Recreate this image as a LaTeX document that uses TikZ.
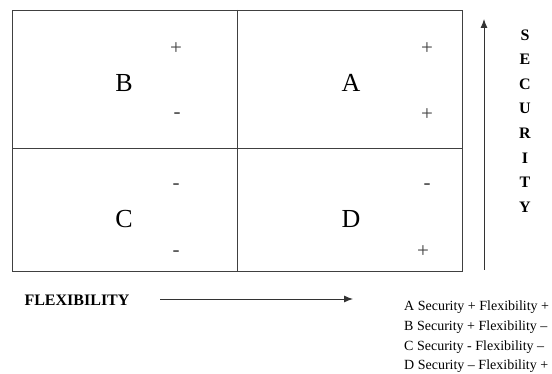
\documentclass[tikz,border=0pt]{standalone}
\usepackage{fontspec}
\setmainfont{Liberation Serif}
\usetikzlibrary{arrows.meta}
\begin{document}
\begin{tikzpicture}[x=1pt,y=-1pt,
  gridline/.style={draw=black!75,line width=0.9pt},
  axis/.style={draw=black!80,line width=0.9pt,-{Latex[length=9pt,width=7pt]}},
  quad/.style={font=\fontsize{26}{26}\selectfont,inner sep=0pt},
  sign/.style={font=\fontsize{21}{21}\selectfont,inner sep=0pt,text=black!75},
  seclet/.style={font=\fontsize{16}{16}\selectfont\bfseries,inner sep=0pt},
  legend/.style={font=\fontsize{14}{14}\selectfont,inner sep=0pt,anchor=west}]
\useasboundingbox (0,0) rectangle (552,374);
% grid
\coordinate (tl) at (12,10);
\coordinate (br) at (462,271);
\draw[gridline] (tl) rectangle (br);
\coordinate (vt) at (237,10);
\coordinate (vb) at (237,271);
\coordinate (hl) at (12,148);
\coordinate (hr) at (462,148);
\draw[gridline] (vt) -- (vb);
\draw[gridline] (hl) -- (hr);
% quadrant letters
\node[quad] (B) at (124,83) {B};
\node[quad] (A) at (351,83) {A};
\node[quad] (C) at (124,219) {C};
\node[quad] (D) at (351,219) {D};
% signs
\node[sign] (b1) at (176,49) {+};
\node[sign] (b2) at (177,116) {-};
\node[sign] (a1) at (427,49) {+};
\node[sign] (a2) at (427,115) {+};
\node[sign] (c1) at (176,187) {-};
\node[sign] (c2) at (176,254) {-};
\node[sign] (d1) at (427,187) {-};
\node[sign] (d2) at (423,252) {+};
% security axis
\coordinate (s0) at (484,270);
\coordinate (s1) at (484,19);
\draw[axis] (s0) -- (s1);
\foreach \l [count=\i from 0] in {S,E,C,U,R,I,T,Y}
  \node[seclet] (sec\i) at (525,35+24.6*\i) {\l};
% flexibility axis
\node[font=\fontsize{16}{16}\selectfont\bfseries,inner sep=0pt] (flex) at (77,300) {FLEXIBILITY};
\coordinate (f0) at (160,299);
\coordinate (f1) at (353,299);
\draw[axis] (f0) -- (f1);
% legend
\node[legend] (l1) at (404,307) {A Security + Flexibility +};
\node[legend] (l2) at (404,327) {B Security + Flexibility –};
\node[legend] (l3) at (404,347) {C Security - Flexibility –};
\node[legend] (l4) at (404,366) {D Security – Flexibility +};
\end{tikzpicture}
\end{document}
